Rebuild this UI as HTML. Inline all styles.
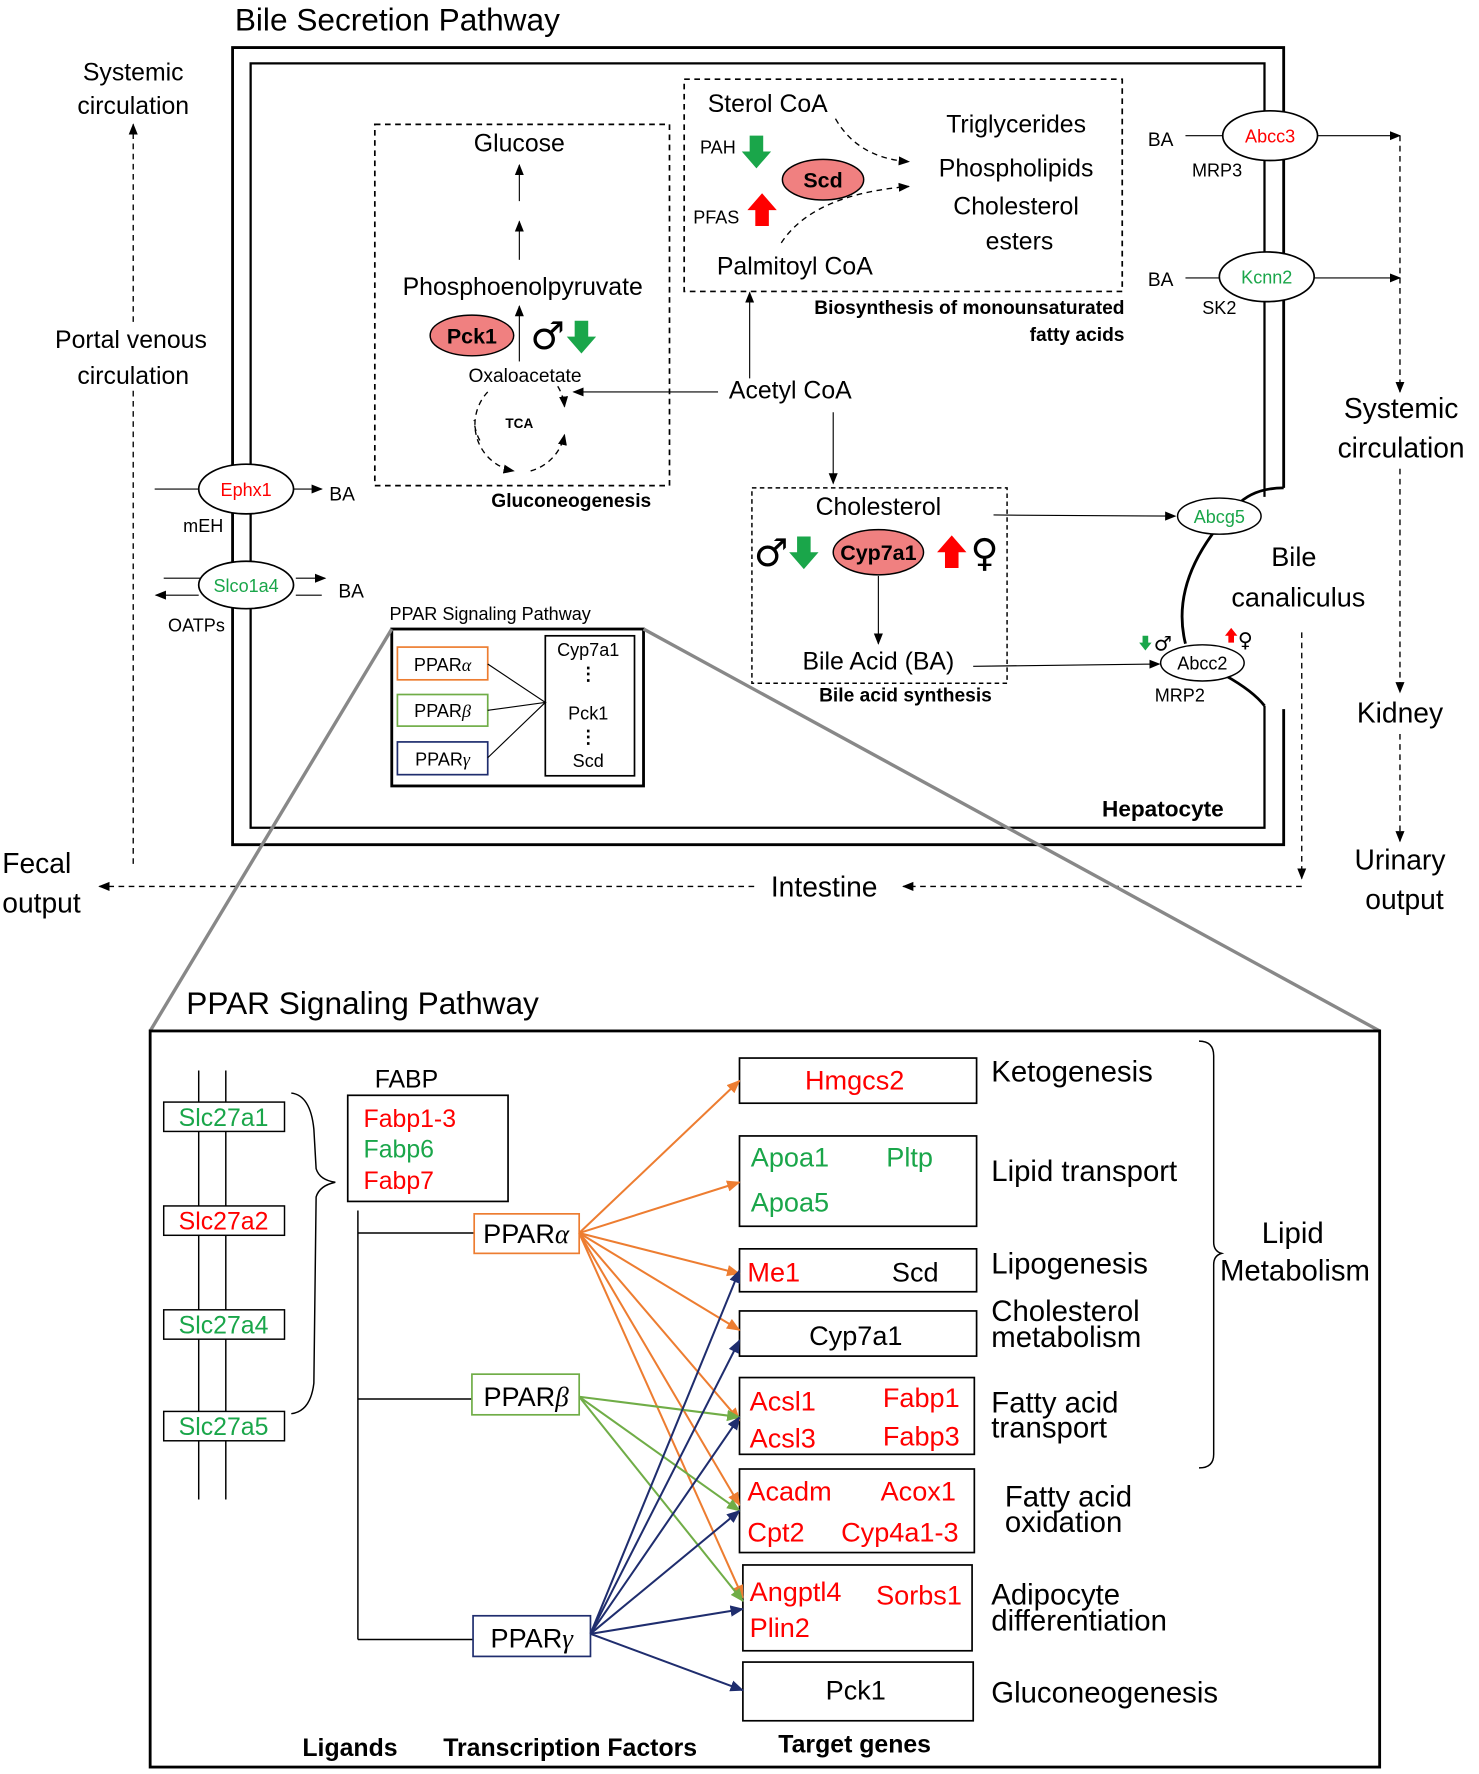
<!DOCTYPE html>
<html><head><meta charset="utf-8"><style>html,body{margin:0;padding:0;background:#fff}svg{display:block}text{font-family:"Liberation Sans",Arial,sans-serif}.sym{font-family:"DejaVu Sans",sans-serif}</style></head><body>
<svg width="1479" height="1774" viewBox="0 0 1310 1571" xmlns="http://www.w3.org/2000/svg">
<defs>
<marker id="k" markerWidth="10" markerHeight="10" refX="9" refY="5" orient="auto" markerUnits="userSpaceOnUse"><path d="M0,1 L10,5 L0,9 z" fill="#000"/></marker>
<marker id="o" markerWidth="12" markerHeight="12" refX="11" refY="6" orient="auto" markerUnits="userSpaceOnUse"><path d="M0,1 L12,6 L0,11 z" fill="#ed7d31"/></marker>
<marker id="g" markerWidth="12" markerHeight="12" refX="11" refY="6" orient="auto" markerUnits="userSpaceOnUse"><path d="M0,1 L12,6 L0,11 z" fill="#70ad47"/></marker>
<marker id="n" markerWidth="12" markerHeight="12" refX="11" refY="6" orient="auto" markerUnits="userSpaceOnUse"><path d="M0,1 L12,6 L0,11 z" fill="#1f2d6e"/></marker>
</defs>
<g fill="none" stroke="#000">
<path d="M1137,432 L1137,42 L206,42 L206,748 L1137,748 L1137,628" stroke-width="2.5"/>
<path d="M1120,440 L1120,56 L222,56 L222,733 L1120,733 L1120,625" stroke-width="2"/>
<path d="M1137,432 Q1110,432 1095,448 Q1035,510 1050,570 M1085,598 Q1110,612 1120,625" stroke-width="2.5"/>
<rect x="332" y="110" width="261" height="320" stroke-dasharray="5,4" stroke-width="1.5"/>
<rect x="606" y="70" width="388" height="188" stroke-dasharray="5,4" stroke-width="1.5"/>
<rect x="666" y="432" width="226" height="173" stroke-dasharray="4,3" stroke-width="1.3"/>
<line x1="460" y1="178" x2="460" y2="146" marker-end="url(#k)"/>
<line x1="460" y1="230" x2="460" y2="196" marker-end="url(#k)"/>
<line x1="460" y1="320" x2="460" y2="271" marker-end="url(#k)"/>
<line x1="636" y1="347" x2="508" y2="347" marker-end="url(#k)"/>
<line x1="664" y1="335" x2="664" y2="259" marker-end="url(#k)"/>
<line x1="738" y1="365" x2="738" y2="428" marker-end="url(#k)"/>
<line x1="880" y1="456" x2="1041" y2="457" marker-end="url(#k)"/>
<line x1="778" y1="510" x2="778" y2="570" marker-end="url(#k)"/>
<line x1="862" y1="590" x2="1027" y2="588" marker-end="url(#k)"/>
<line x1="1050" y1="120" x2="1083" y2="120"/>
<line x1="1167" y1="120" x2="1240" y2="120" marker-end="url(#k)"/>
<line x1="1050" y1="246" x2="1080" y2="246"/>
<line x1="1164" y1="246" x2="1240" y2="246" marker-end="url(#k)"/>
<line x1="137" y1="433" x2="176" y2="433"/>
<line x1="260" y1="433" x2="285" y2="433" marker-end="url(#k)"/>
<line x1="145" y1="512" x2="178" y2="512"/>
<line x1="262" y1="512" x2="288" y2="512" marker-end="url(#k)"/>
<line x1="176" y1="527" x2="138" y2="527" marker-end="url(#k)"/>
<line x1="262" y1="527" x2="285" y2="527"/>
<g stroke-dasharray="5,4" stroke-width="1.2">
<line x1="118" y1="765" x2="118" y2="343"/>
<line x1="118" y1="285" x2="118" y2="110" marker-end="url(#k)"/>
<line x1="1240" y1="120" x2="1240" y2="347" marker-end="url(#k)"/>
<line x1="1240" y1="415" x2="1240" y2="613" marker-end="url(#k)"/>
<line x1="1240" y1="650" x2="1240" y2="745" marker-end="url(#k)"/>
<line x1="1153" y1="560" x2="1153" y2="778" marker-end="url(#k)"/>
<line x1="1153" y1="785" x2="800" y2="785" marker-end="url(#k)"/>
<line x1="668" y1="785" x2="88" y2="785" marker-end="url(#k)"/>
<path d="M740,105 Q760,140 805,143" marker-end="url(#k)"/>
<path d="M692,215 Q720,172 805,165" marker-end="url(#k)"/>
<path d="M432,347 A42,42 0 0 0 455,417" marker-end="url(#k)"/>
<path d="M470,417 A42,42 0 0 0 500,385" marker-end="url(#k)"/>
<path d="M494,342 A42,42 0 0 1 500,360" marker-end="url(#k)"/>
<path d="M425,390 A42,42 0 0 1 420,372"/>
</g>
<ellipse cx="1125" cy="120" rx="42" ry="22" fill="#fff" stroke-width="1.5"/>
<ellipse cx="1122" cy="245" rx="42" ry="22" fill="#fff" stroke-width="1.5"/>
<ellipse cx="218" cy="433" rx="42" ry="22" fill="#fff" stroke-width="1.5"/>
<ellipse cx="218" cy="518" rx="42" ry="21" fill="#fff" stroke-width="1.5"/>
<ellipse cx="1080" cy="457" rx="37" ry="16" fill="#fff" stroke-width="1.3"/>
<ellipse cx="1065" cy="587" rx="37" ry="16" fill="#fff" stroke-width="1.3"/>
<ellipse cx="418" cy="297" rx="37" ry="18" fill="#f08080" stroke-width="1.3"/>
<ellipse cx="729" cy="159" rx="36" ry="18" fill="#f08080" stroke-width="1.3"/>
<ellipse cx="778" cy="489" rx="40" ry="20" fill="#f08080" stroke-width="1.3"/>
<rect x="347" y="557" width="223" height="139" stroke-width="2.5"/>
<rect x="352" y="573" width="80" height="29" stroke="#ed7d31" stroke-width="1.5"/>
<rect x="352" y="615" width="80" height="28" stroke="#70ad47" stroke-width="1.5"/>
<rect x="352" y="657" width="80" height="29" stroke="#1f2d6e" stroke-width="1.5"/>
<rect x="483" y="563" width="79" height="124" stroke-width="1.5"/>
<path d="M432,588 L483,622 L432,629 M483,622 L432,671"/>
<line x1="347" y1="557" x2="133" y2="913" stroke="#888" stroke-width="3"/>
<line x1="570" y1="557" x2="1222" y2="913" stroke="#888" stroke-width="3"/>
<rect x="133" y="913" width="1089" height="652" stroke-width="2.5"/>
<line x1="176" y1="948" x2="176" y2="1328" stroke-width="1.3"/>
<line x1="200" y1="948" x2="200" y2="1328" stroke-width="1.3"/>
<g fill="#fff" stroke-width="1.3">
<rect x="145" y="976" width="107" height="26"/><rect x="145" y="1068" width="107" height="26"/>
<rect x="145" y="1160" width="107" height="26"/><rect x="145" y="1250" width="107" height="26"/>
</g>
<path d="M258,968 Q275,970 278,1000 L280,1035 Q283,1045 297,1047 Q283,1050 280,1060 L278,1225 Q275,1250 258,1252" stroke-width="1.3"/>
<rect x="308" y="970" width="142" height="94" stroke-width="1.5"/>
<path d="M317,1072 L317,1452 M317,1092 L420,1092 M317,1239 L418,1239 M317,1452 L419,1452" stroke-width="1.3"/>
<rect x="420" y="1075" width="93" height="35" stroke="#ed7d31" stroke-width="1.5"/>
<rect x="418" y="1217" width="95" height="36" stroke="#70ad47" stroke-width="1.5"/>
<rect x="419" y="1431" width="104" height="36" stroke="#1f2d6e" stroke-width="1.5"/>
<g stroke-width="1.5">
<rect x="655" y="937" width="210" height="40"/><rect x="655" y="1006" width="210" height="80"/>
<rect x="655" y="1106" width="210" height="38"/><rect x="655" y="1161" width="210" height="40"/>
<rect x="655" y="1220" width="208" height="68"/><rect x="655" y="1301" width="208" height="74"/>
<rect x="658" y="1386" width="203" height="76"/><rect x="658" y="1472" width="204" height="52"/>
</g>
<path d="M1062,922 Q1075,922 1075,935 L1075,1100 Q1075,1108 1082,1110 Q1075,1112 1075,1120 L1075,1288 Q1075,1300 1062,1300" stroke-width="1.3"/>
<g stroke="#ed7d31" stroke-width="1.8">
<line x1="513" y1="1092" x2="655" y2="957" marker-end="url(#o)"/>
<line x1="513" y1="1092" x2="655" y2="1047" marker-end="url(#o)"/>
<line x1="513" y1="1092" x2="655" y2="1128" marker-end="url(#o)"/>
<line x1="513" y1="1092" x2="655" y2="1178" marker-end="url(#o)"/>
<line x1="513" y1="1092" x2="655" y2="1258" marker-end="url(#o)"/>
<line x1="513" y1="1092" x2="655" y2="1333" marker-end="url(#o)"/>
<line x1="513" y1="1092" x2="658" y2="1415" marker-end="url(#o)"/>
</g>
<g stroke="#70ad47" stroke-width="1.8">
<line x1="513" y1="1237" x2="655" y2="1255" marker-end="url(#g)"/>
<line x1="513" y1="1237" x2="655" y2="1338" marker-end="url(#g)"/>
<line x1="513" y1="1237" x2="658" y2="1418" marker-end="url(#g)"/>
</g>
<g stroke="#1f2d6e" stroke-width="1.8">
<line x1="523" y1="1447" x2="655" y2="1125" marker-end="url(#n)"/>
<line x1="523" y1="1447" x2="655" y2="1187" marker-end="url(#n)"/>
<line x1="523" y1="1447" x2="655" y2="1255" marker-end="url(#n)"/>
<line x1="523" y1="1447" x2="655" y2="1338" marker-end="url(#n)"/>
<line x1="523" y1="1447" x2="658" y2="1425" marker-end="url(#n)"/>
<line x1="523" y1="1447" x2="658" y2="1497" marker-end="url(#n)"/>
</g>
</g>
<g>
<path d="M664,120 h12 v14 h7 l-13,15 l-13,-15 h7 z" fill="#1aa64a"/>
<path d="M669,200 h12 v-14 h7 l-13,-15 l-13,15 h7 z" fill="#ff0000"/>
<path d="M509,284 h12 v14 h7 l-13,15 l-13,-15 h7 z" fill="#1aa64a"/>
<path d="M706,475 h12 v14 h7 l-13,15 l-13,-15 h7 z" fill="#1aa64a"/>
<path d="M837,503 h12 v-14 h7 l-13,-15 l-13,15 h7 z" fill="#ff0000"/>
<path d="M1012,563 h5 v6 h3 l-5.5,7 l-5.5,-7 h3 z" fill="#1aa64a"/>
<path d="M1088,569 h5 v-6 h3 l-5.5,-7 l-5.5,7 h3 z" fill="#ff0000"/>
</g>
<g font-size="22" fill="#000">
<text x="208" y="27" font-size="28">Bile Secretion Pathway</text>
<text x="118" y="71" text-anchor="middle">Systemic</text><text x="118" y="101" text-anchor="middle">circulation</text>
<text x="116" y="308" text-anchor="middle">Portal venous</text><text x="118" y="340" text-anchor="middle">circulation</text>
<text x="460" y="134" text-anchor="middle">Glucose</text>
<text x="463" y="261" text-anchor="middle">Phosphoenolpyruvate</text>
<text x="418" y="304" text-anchor="middle" font-weight="bold" font-size="19">Pck1</text>
<text x="485" y="309" text-anchor="middle" font-size="34" class="sym">♂</text>
<text x="465" y="338" text-anchor="middle" font-size="17">Oxaloacetate</text>
<text x="460" y="379" text-anchor="middle" font-size="12" font-weight="bold">TCA</text>
<text x="506" y="449" text-anchor="middle" font-size="17" font-weight="bold">Gluconeogenesis</text>
<text x="680" y="99" text-anchor="middle">Sterol CoA</text>
<text x="620" y="136" font-size="16">PAH</text>
<text x="729" y="166" text-anchor="middle" font-weight="bold" font-size="19">Scd</text>
<text x="614" y="198" font-size="16">PFAS</text>
<text x="704" y="243" text-anchor="middle">Palmitoyl CoA</text>
<text x="900" y="117" text-anchor="middle">Triglycerides</text>
<text x="900" y="156" text-anchor="middle">Phospholipids</text>
<text x="900" y="190" text-anchor="middle">Cholesterol</text>
<text x="903" y="221" text-anchor="middle">esters</text>
<text x="996" y="278" text-anchor="end" font-size="17" font-weight="bold">Biosynthesis of monounsaturated</text>
<text x="996" y="302" text-anchor="end" font-size="17" font-weight="bold">fatty acids</text>
<text x="700" y="353" text-anchor="middle">Acetyl CoA</text>
<text x="778" y="456" text-anchor="middle">Cholesterol</text>
<text x="683" y="501" text-anchor="middle" font-size="34" class="sym">♂</text>
<text x="778" y="496" text-anchor="middle" font-weight="bold" font-size="19">Cyp7a1</text>
<text x="872" y="501" text-anchor="middle" font-size="34" class="sym">♀</text>
<text x="778" y="593" text-anchor="middle">Bile Acid (BA)</text>
<text x="802" y="621" text-anchor="middle" font-size="17" font-weight="bold">Bile acid synthesis</text>
<text x="1030" y="723" text-anchor="middle" font-weight="bold" font-size="20">Hepatocyte</text>
<text x="1080" y="463" text-anchor="middle" font-size="16" fill="#1aa64a">Abcg5</text>
<text x="1065" y="593" text-anchor="middle" font-size="16">Abcc2</text>
<text x="1045" y="621" text-anchor="middle" font-size="16">MRP2</text>
<text x="1030" y="576" text-anchor="middle" font-size="18" class="sym">♂</text>
<text x="1103" y="573" text-anchor="middle" font-size="18" class="sym">♀</text>
<text x="1146" y="501" text-anchor="middle" font-size="24">Bile</text>
<text x="1150" y="537" text-anchor="middle" font-size="24">canaliculus</text>
<text x="1125" y="126" text-anchor="middle" font-size="16" fill="#ff0000">Abcc3</text>
<text x="1028" y="129" text-anchor="middle" font-size="17">BA</text>
<text x="1078" y="156" text-anchor="middle" font-size="16">MRP3</text>
<text x="1122" y="251" text-anchor="middle" font-size="16" fill="#1aa64a">Kcnn2</text>
<text x="1028" y="253" text-anchor="middle" font-size="17">BA</text>
<text x="1080" y="278" text-anchor="middle" font-size="16">SK2</text>
<text x="1241" y="370" text-anchor="middle" font-size="25">Systemic</text>
<text x="1241" y="405" text-anchor="middle" font-size="25">circulation</text>
<text x="1240" y="640" text-anchor="middle" font-size="25">Kidney</text>
<text x="1240" y="770" text-anchor="middle" font-size="25">Urinary</text>
<text x="1244" y="805" text-anchor="middle" font-size="25">output</text>
<text x="730" y="794" text-anchor="middle" font-size="25">Intestine</text>
<text x="2" y="773" font-size="25">Fecal</text><text x="2" y="808" font-size="25">output</text>
<text x="218" y="439" text-anchor="middle" font-size="16" fill="#ff0000">Ephx1</text>
<text x="303" y="443" text-anchor="middle" font-size="17">BA</text>
<text x="180" y="471" text-anchor="middle" font-size="16">mEH</text>
<text x="218" y="524" text-anchor="middle" font-size="16" fill="#1aa64a">Slco1a4</text>
<text x="311" y="529" text-anchor="middle" font-size="17">BA</text>
<text x="174" y="559" text-anchor="middle" font-size="16">OATPs</text>
<text x="345" y="549" font-size="16">PPAR Signaling Pathway</text>
<text x="392" y="594" text-anchor="middle" font-size="16">PPAR<tspan font-family="Liberation Serif" font-style="italic">α</tspan></text>
<text x="392" y="635" text-anchor="middle" font-size="16">PPAR<tspan font-family="Liberation Serif" font-style="italic">β</tspan></text>
<text x="392" y="678" text-anchor="middle" font-size="16">PPAR<tspan font-family="Liberation Serif" font-style="italic">γ</tspan></text>
<text x="521" y="581" text-anchor="middle" font-size="16">Cyp7a1</text>
<text x="521" y="637" text-anchor="middle" font-size="16">Pck1</text>
<text x="521" y="679" text-anchor="middle" font-size="16">Scd</text>
<text x="521" y="602" text-anchor="middle" font-size="16" font-weight="bold">⋮</text>
<text x="521" y="658" text-anchor="middle" font-size="16" font-weight="bold">⋮</text>
<text x="165" y="898" font-size="28">PPAR Signaling Pathway</text>
<text x="198" y="997" text-anchor="middle" fill="#1aa64a">Slc27a1</text>
<text x="198" y="1089" text-anchor="middle" fill="#ff0000">Slc27a2</text>
<text x="198" y="1181" text-anchor="middle" fill="#1aa64a">Slc27a4</text>
<text x="198" y="1271" text-anchor="middle" fill="#1aa64a">Slc27a5</text>
<text x="360" y="963" text-anchor="middle">FABP</text>
<text x="322" y="998" fill="#ff0000">Fabp1-3</text>
<text x="322" y="1025" fill="#1aa64a">Fabp6</text>
<text x="322" y="1053" fill="#ff0000">Fabp7</text>
<text x="466" y="1101" text-anchor="middle" font-size="24">PPAR<tspan font-family="Liberation Serif" font-style="italic">α</tspan></text>
<text x="466" y="1245" text-anchor="middle" font-size="24">PPAR<tspan font-family="Liberation Serif" font-style="italic">β</tspan></text>
<text x="471" y="1459" text-anchor="middle" font-size="24">PPAR<tspan font-family="Liberation Serif" font-style="italic">γ</tspan></text>
<g font-size="24">
<text x="757" y="965" text-anchor="middle" fill="#ff0000">Hmgcs2</text>
<text x="665" y="1033" fill="#1aa64a">Apoa1</text><text x="785" y="1033" fill="#1aa64a">Pltp</text>
<text x="665" y="1073" fill="#1aa64a">Apoa5</text>
<text x="662" y="1135" fill="#ff0000">Me1</text><text x="790" y="1135">Scd</text>
<text x="758" y="1191" text-anchor="middle">Cyp7a1</text>
<text x="664" y="1249" fill="#ff0000">Acsl1</text><text x="782" y="1246" fill="#ff0000">Fabp1</text>
<text x="664" y="1282" fill="#ff0000">Acsl3</text><text x="782" y="1280" fill="#ff0000">Fabp3</text>
<text x="662" y="1329" fill="#ff0000">Acadm</text><text x="780" y="1329" fill="#ff0000">Acox1</text>
<text x="662" y="1365" fill="#ff0000">Cpt2</text><text x="745" y="1365" fill="#ff0000">Cyp4a1-3</text>
<text x="664" y="1418" fill="#ff0000">Angptl4</text><text x="776" y="1421" fill="#ff0000">Sorbs1</text>
<text x="664" y="1450" fill="#ff0000">Plin2</text>
<text x="758" y="1505" text-anchor="middle">Pck1</text>
</g>
<g font-size="26">
<text x="878" y="958">Ketogenesis</text>
<text x="878" y="1046">Lipid transport</text>
<text x="878" y="1128">Lipogenesis</text>
<text x="878" y="1170">Cholesterol</text><text x="878" y="1193">metabolism</text>
<text x="878" y="1251">Fatty acid</text><text x="878" y="1273">transport</text>
<text x="890" y="1334">Fatty acid</text><text x="890" y="1357">oxidation</text>
<text x="878" y="1421">Adipocyte</text><text x="878" y="1444">differentiation</text>
<text x="878" y="1508">Gluconeogenesis</text>
<text x="1145" y="1101" text-anchor="middle">Lipid</text>
<text x="1147" y="1134" text-anchor="middle">Metabolism</text>
</g>
<text x="310" y="1555" text-anchor="middle" font-weight="bold">Ligands</text>
<text x="505" y="1555" text-anchor="middle" font-weight="bold">Transcription Factors</text>
<text x="757" y="1552" text-anchor="middle" font-weight="bold">Target genes</text>
</g>
</svg>
</body></html>
